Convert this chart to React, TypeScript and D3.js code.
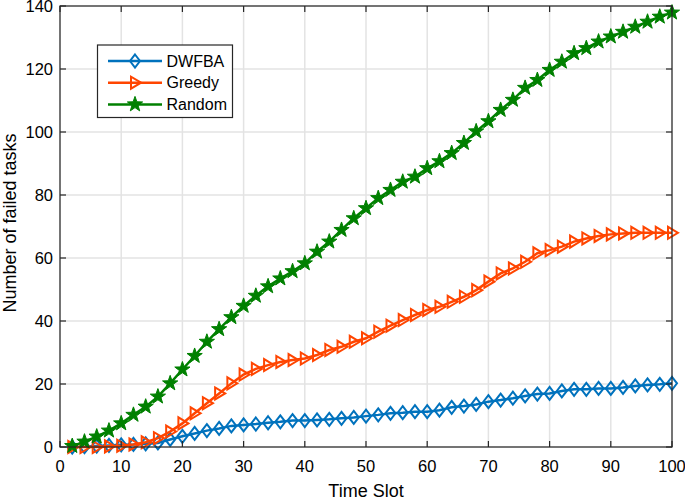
import React from "react";
import * as d3 from "d3";

const timeSlots = d3.range(2, 101, 2);
const dwfba = [0, 0.1, 0.3, 0.5, 0.7, 0.8, 1.0, 1.3, 2.4, 3.4, 4.3, 5.2, 5.9, 6.7, 7, 7.3, 7.7, 8, 8.4, 8.4, 8.6, 8.8, 9.1, 9.4, 9.8, 10.2, 10.7, 10.9, 11.2, 11.2, 11.7, 12.6, 13, 13.5, 14.4, 14.9, 15.5, 16.2, 16.8, 17, 17.8, 18.3, 18.3, 18.6, 18.6, 18.9, 19.4, 19.7, 19.9, 20.2];
const greedy = [0, 0, 0, 0.2, 0.4, 0.8, 1.5, 2.8, 4.9, 7.5, 10.7, 13.9, 17, 20.2, 23, 24.8, 26, 27, 27.6, 28.1, 29.2, 30.8, 31.8, 33.4, 34.5, 36.6, 38.5, 40.3, 41.9, 43.5, 44.5, 46.1, 47.7, 49.8, 52.5, 55.1, 56.7, 58.8, 61.5, 62.5, 63.6, 65.2, 66.2, 67, 67.5, 67.8, 68, 68, 68, 68];
const random = [0.3, 1.7, 3.3, 5.2, 7.5, 10.2, 12.8, 16, 20.2, 24.6, 28.9, 33.4, 37.4, 41.2, 44.8, 48, 51, 53.5, 55.8, 58.3, 62, 65.2, 68.9, 72.6, 75.8, 79, 81.6, 84.2, 85.8, 88.5, 90.7, 93.3, 96.5, 100.2, 103.4, 107, 110.2, 114, 116.5, 119.7, 122.3, 125, 126.6, 128.7, 130.3, 131.8, 133.4, 135, 136.6, 137.9];
const xTicks = [0, 10, 20, 30, 40, 50, 60, 70, 80, 90, 100];
const yTicks = [0, 20, 40, 60, 80, 100, 120, 140];
const seriesNames = ["DWFBA", "Greedy", "Random"];
const seriesColors = ["#0072BD", "#FF4500", "#008000"];
const seriesMarkers = ["diamond", "triangle", "star"];

const FONT = "'Liberation Sans', Arial, sans-serif";

function markerPath(kind: string): string {
  if (kind === "diamond") {
    return "M0,-6.5L5,0L0,6.5L-5,0Z";
  }
  if (kind === "triangle") {
    return "M6,0L-4,-6L-4,6Z";
  }
  const R = 8, r = 3.2;
  const pts: string[] = [];
  for (let i = 0; i < 10; i++) {
    const a = -Math.PI / 2 + (i * Math.PI) / 5;
    const rad = i % 2 === 0 ? R : r;
    pts.push(`${(rad * Math.cos(a)).toFixed(2)},${(rad * Math.sin(a)).toFixed(2)}`);
  }
  return "M" + pts.join("L") + "Z";
}

function Marker({ kind, color, x, y }: { kind: string; color: string; x: number; y: number }) {
  const filled = kind === "star";
  return (
    <path
      d={markerPath(kind)}
      transform={`translate(${x},${y})`}
      fill={filled ? color : "none"}
      stroke={color}
      strokeWidth={filled ? 1 : 2}
      strokeLinejoin="miter"
    />
  );
}

export default function App() {
  const W = 685, H = 499;
  const left = 60, right = 672, top = 6, bottom = 447;
  const x = d3.scaleLinear().domain([0, 100]).range([left, right]);
  const y = d3.scaleLinear().domain([0, 140]).range([bottom, top]);
  const allSeries = [dwfba, greedy, random];
  const line = d3
    .line<number>()
    .x((_, i) => x(timeSlots[i]))
    .y((d) => y(d));
  const tickLen = 6;
  const axisColor = "#262626";

  return (
    <svg width={W} height={H} style={{ position: "absolute", left: 0, top: 0, background: "#fff" }}>
      <rect x={0} y={0} width={W} height={H} fill="#fff" />
      {/* grid */}
      {xTicks.map((t) => (
        <line key={"gx" + t} x1={x(t)} x2={x(t)} y1={top} y2={bottom} stroke="#e3e3e3" strokeWidth={1.5} />
      ))}
      {yTicks.map((t) => (
        <line key={"gy" + t} x1={left} x2={right} y1={y(t)} y2={y(t)} stroke="#e3e3e3" strokeWidth={1.5} />
      ))}
      {/* series */}
      {allSeries.map((s, si) => (
        <g key={"s" + si}>
          <path d={line(s) || ""} fill="none" stroke={seriesColors[si]} strokeWidth={2.5} />
          {s.map((v, i) => (
            <Marker key={i} kind={seriesMarkers[si]} color={seriesColors[si]} x={x(timeSlots[i])} y={y(v)} />
          ))}
        </g>
      ))}
      {/* axes box */}
      <rect x={left} y={top} width={right - left} height={bottom - top} fill="none" stroke={axisColor} strokeWidth={1.2} />
      {xTicks.map((t) => (
        <g key={"tx" + t}>
          <line x1={x(t)} x2={x(t)} y1={bottom} y2={bottom - tickLen} stroke={axisColor} strokeWidth={1.2} />
          <line x1={x(t)} x2={x(t)} y1={top} y2={top + tickLen} stroke={axisColor} strokeWidth={1.2} />
          <text x={x(t)} y={472} textAnchor="middle" fontFamily={FONT} fontSize={16.5} fill="#000">
            {t}
          </text>
        </g>
      ))}
      {yTicks.map((t) => (
        <g key={"ty" + t}>
          <line x1={left} x2={left + tickLen} y1={y(t)} y2={y(t)} stroke={axisColor} strokeWidth={1.2} />
          <line x1={right} x2={right - tickLen} y1={y(t)} y2={y(t)} stroke={axisColor} strokeWidth={1.2} />
          <text x={53} y={y(t)} dy="0.36em" textAnchor="end" fontFamily={FONT} fontSize={16.5} fill="#000">
            {t}
          </text>
        </g>
      ))}
      {/* axis labels */}
      <text x={366} y={497} textAnchor="middle" fontFamily={FONT} fontSize={18} fill="#000">
        Time Slot
      </text>
      <text
        transform={`translate(16,223) rotate(-90)`}
        textAnchor="middle"
        fontFamily={FONT}
        fontSize={18}
        fill="#000"
      >
        Number of failed tasks
      </text>
      {/* legend */}
      <rect x={97.5} y={45} width={135} height={72.5} fill="#fff" stroke={axisColor} strokeWidth={1.2} />
      {seriesNames.map((n, i) => {
        const ly = 61 + i * 21.7;
        return (
          <g key={"l" + n}>
            <line x1={108} x2={162} y1={ly} y2={ly} stroke={seriesColors[i]} strokeWidth={2.5} />
            <Marker kind={seriesMarkers[i]} color={seriesColors[i]} x={135} y={ly} />
            <text x={166.5} y={ly} dy="0.36em" fontFamily={FONT} fontSize={16} fill="#000">
              {n}
            </text>
          </g>
        );
      })}
    </svg>
  );
}
